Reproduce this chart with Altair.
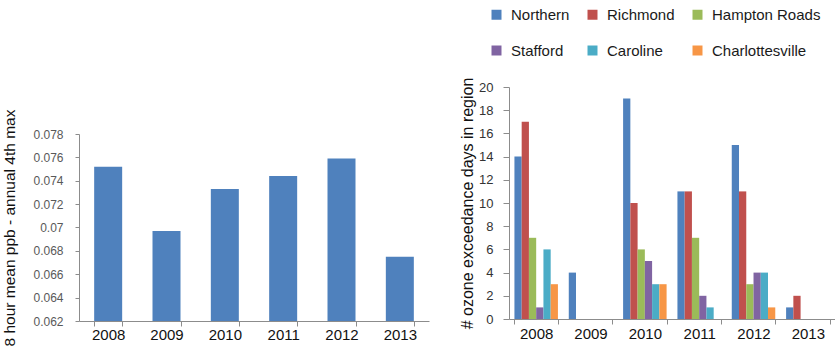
import altair as alt
import pandas as pd

years = ["2008", "2009", "2010", "2011", "2012", "2013"]
ppb_4th_max = [0.0752, 0.0697, 0.0733, 0.0744, 0.0759, 0.0675]

regions = ["Northern", "Richmond", "Hampton Roads", "Stafford", "Caroline", "Charlottesville"]
northern = [14, 4, 19, 11, 15, 1]
richmond = [17, 0, 10, 11, 11, 2]
hampton_roads = [7, 0, 6, 7, 3, 0]
stafford = [1, 0, 5, 2, 4, 0]
caroline = [6, 0, 3, 1, 4, 0]
charlottesville = [3, 0, 3, 0, 1, 0]
region_colors = ["#4F81BD", "#C0504D", "#9BBB59", "#8064A2", "#4BACC6", "#F79646"]

left_ticks = [0.062, 0.064, 0.066, 0.068, 0.07, 0.072, 0.074, 0.076, 0.078]
right_ticks = [0, 2, 4, 6, 8, 10, 12, 14, 16, 18, 20]

df_left = pd.DataFrame({"year": years, "value": ppb_4th_max})
series = [northern, richmond, hampton_roads, stafford, caroline, charlottesville]
rows = []
for r, vals in zip(regions, series):
    for y, v in zip(years, vals):
        rows.append({"year": y, "region": r, "days": v})
df_right = pd.DataFrame(rows)

FONT = "Liberation Sans"

left = alt.Chart(df_left).mark_bar(color="#4F81BD").encode(
    x=alt.X("year:N", sort=years,
            scale=alt.Scale(range=[0, 350], paddingInner=0.52, paddingOuter=0.26),
            axis=alt.Axis(orient="bottom", title=None, labelAngle=0, tickBand="extent",
                          tickSize=5, labelPadding=1, labelFontSize=15, labelColor="#111111")),
    y=alt.Y("value:Q",
            scale=alt.Scale(domain=[0.062, 0.078], range=[234, 47], zero=False, nice=False),
            axis=alt.Axis(orient="left", title="8 hour mean ppb - annual 4th max",
                          values=left_ticks, format=".3~f", tickSize=4, labelPadding=12,
                          labelFontSize=12, labelColor="#595959", titleFontSize=15.5,
                          titlePadding=15, titleColor="#111111")),
    y2=alt.datum(0.062),
)

right = alt.Chart(df_right).mark_bar().encode(
    x=alt.X("year:N", sort=years,
            scale=alt.Scale(range=[430, 756], paddingInner=0.2, paddingOuter=0.1),
            axis=alt.Axis(orient="bottom", offset=-2, title=None, labelAngle=0, tickBand="extent",
                          tickSize=5, labelPadding=2, labelFontSize=15, labelColor="#111111")),
    xOffset=alt.XOffset("region:N", sort=regions,
                        scale=alt.Scale(domain=regions, range=[0, 43.5], paddingInner=0, paddingOuter=0)),
    y=alt.Y("days:Q",
            scale=alt.Scale(domain=[0, 20], range=[232, 0], nice=False),
            axis=alt.Axis(orient="left", offset=-430, title="# ozone exceedance days in region",
                          values=right_ticks, tickSize=6, labelPadding=10, labelFontSize=13,
                          labelColor="#333333", titleFontSize=16, titlePadding=3,
                          titleColor="#111111")),
    color=alt.Color("region:N", sort=regions,
                    scale=alt.Scale(domain=regions, range=region_colors),
                    legend=alt.Legend(orient="none", legendX=410, legendY=-80, title=None,
                                      columns=3, direction="horizontal", symbolType="square",
                                      symbolSize=100, symbolStrokeWidth=0, labelFontSize=15,
                                      labelOffset=7, labelColor="#1a1a1a", labelFont=FONT,
                                      columnPadding=15, rowPadding=20, padding=0)),
)

chart = alt.layer(left, right).resolve_scale(
    x="independent", y="independent"
).properties(
    width=756, height=234,
    autosize=alt.AutoSizeParams(type="none"),
    padding={"left": 79, "top": 87, "right": 0, "bottom": 29},
).configure_view(stroke=None).configure_axis(
    grid=False, domainColor="#8c8c8c", tickColor="#8c8c8c",
    labelFont=FONT, titleFont=FONT, titleFontWeight="normal",
)

chart.save("out.html", embed_options={"renderer": "svg", "actions": False})
